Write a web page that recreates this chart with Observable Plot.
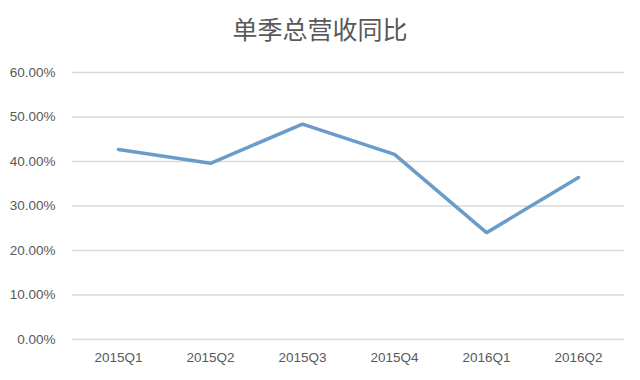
<!DOCTYPE html>
<html><head><meta charset="utf-8">
<script src="https://cdn.jsdelivr.net/npm/d3@7"></script>
<script src="https://cdn.jsdelivr.net/npm/@observablehq/plot@0.6"></script>
<style>
body{margin:0;background:#fff;width:640px;height:380px;overflow:hidden;}
#title{height:50px;line-height:56px;text-align:center;font-family:"Noto Sans CJK SC",sans-serif;font-size:25px;color:#595959;}
</style></head>
<body>
<div id="title">单季总营收同比</div>
<div id="chart"></div>
<script>
const quarters = ["2015Q1","2015Q2","2015Q3","2015Q4","2016Q1","2016Q2"];
const growth = [0.427, 0.396, 0.484, 0.416, 0.240, 0.364];
const yTicks = [0, 0.1, 0.2, 0.3, 0.4, 0.5, 0.6];
const data = quarters.map((q, i) => ({q, v: growth[i]}));
const fmt = d3.format(".2%");
const chart = Plot.plot({
  width: 640, height: 330,
  marginTop: 22, marginBottom: 41, marginLeft: 72, marginRight: 16,
  style: {fontFamily: "Liberation Sans, Arial, sans-serif", fontSize: "13.5px", color: "#595959", background: "#fff"},
  x: {type: "point", domain: quarters, padding: 0.5, label: null},
  y: {domain: [0, 0.6], label: null},
  marks: [
    Plot.ruleY(yTicks, {stroke: "#d9d9d9", strokeWidth: 1.5}),
    Plot.axisY(yTicks, {tickFormat: fmt, tickSize: 0, tickPadding: 17, label: null, fontSize: 13.5}),
    Plot.axisX(quarters, {tickSize: 0, tickPadding: 13, label: null, fontSize: 13.5}),
    Plot.line(data, {x: "q", y: "v", stroke: "#6a9cca", strokeWidth: 3.5, strokeLinejoin: "miter"})
  ]
});
document.getElementById("chart").appendChild(chart);
</script>
</body></html>
